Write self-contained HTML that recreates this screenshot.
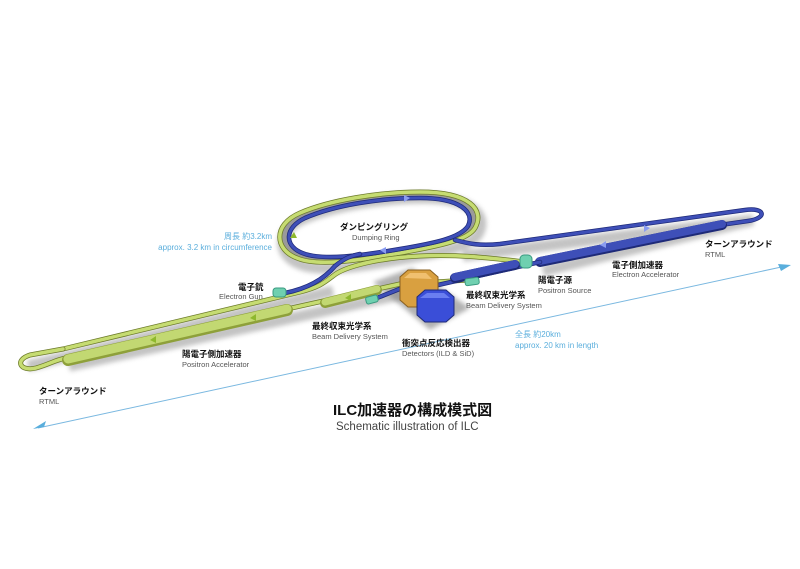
<!DOCTYPE html>
<html><head><meta charset="utf-8">
<style>
html,body{margin:0;padding:0;background:#fff;}
svg{display:block;}
text{font-family:"Liberation Sans","Noto Sans CJK JP",sans-serif;}
.jp{font-size:8.5px;font-weight:bold;fill:#111;}
.en{font-size:7.5px;fill:#555;}
.bl{font-size:8px;fill:#5aaedc;}
</style></head><body>
<svg width="800" height="569" viewBox="0 0 800 569" xmlns="http://www.w3.org/2000/svg">
<defs>
<filter id="sh" x="-10%" y="-10%" width="120%" height="140%"><feGaussianBlur stdDeviation="2.5"/></filter>
</defs>
<!-- shadows -->
<g stroke="#888" fill="none" opacity="0.5" filter="url(#sh)" stroke-width="11" transform="translate(3,6)">
<path d="M297,258 C275,250 272,225 300,213 C330,200 380,192 420,192 C470,192 485,210 475,228 C468,240 440,246 400,253 C370,258 320,268 297,258 Z"/>
<path d="M25,360 L330,285"/>
<path d="M66,360 L400,288"/>
<path d="M460,250 L750,214 L540,265"/>
</g>
<!-- grey band between green & blue ring -->
<path d="M298,255 C280,248 278,226 302,215 C332,202 380,195 420,195 C465,195 480,211 471,227 C464,239 438,244 400,251 C368,256 320,265 298,255 Z" fill="none" stroke="#9a9a9a" stroke-width="6"/>
<polygon points="373,282 412,268 470,308 430,330" fill="#888" opacity="0.65" filter="url(#sh)"/>

<g fill="none" stroke-linecap="round" stroke-linejoin="round">
<!-- green ring -->
<path d="M297,258 C275,250 272,225 300,213 C330,200 380,192 420,192 C470,192 485,210 475,228 C468,240 440,246 400,253 C370,258 320,268 297,258 Z" stroke="#6c7a2a" stroke-width="5"/>
<path d="M297,258 C275,250 272,225 300,213 C330,200 380,192 420,192 C470,192 485,210 475,228 C468,240 440,246 400,253 C370,258 320,268 297,258 Z" stroke="#c6dc72" stroke-width="3.5"/>
<!-- green long upper line + loop -->
<path d="M63,349 L300,292 C320,287 325,282 333,276 C345,266 380,258 420,256 C460,254 490,258 525,262" stroke="#6c7a2a" stroke-width="5"/>
<path d="M63,349 L300,292 C320,287 325,282 333,276 C345,266 380,258 420,256 C460,254 490,258 525,262" stroke="#c6dc72" stroke-width="3.5"/>
<path d="M63,349 L30,355 C14,360 20,372 36,368 C50,364 55,360 66,358" stroke="#6c7a2a" stroke-width="5"/>
<path d="M63,349 L30,355 C14,360 20,372 36,368 C50,364 55,360 66,358" stroke="#c6dc72" stroke-width="3.5"/>
<!-- lower line to detector -->
<path d="M66,358 L400,284 M436,282 L468,280" stroke="#6c7a2a" stroke-width="5"/>
<path d="M66,358 L400,284 M436,282 L468,280" stroke="#c6dc72" stroke-width="3.5"/>
<path d="M68,360 L287,310" stroke="#8ea03a" stroke-width="12"/>
<path d="M68,359 L287,309" stroke="#c2d872" stroke-width="9"/>
<path d="M325,303 L377,290" stroke="#8ea03a" stroke-width="10"/>
<path d="M325,302 L377,289" stroke="#c2d872" stroke-width="7"/>

<!-- blue ring -->
<path d="M300,252 C285,245 284,228 305,218 C335,205 380,198 420,198 C460,198 475,212 468,226 C460,238 435,243 400,249 C365,255 320,262 300,252 Z" stroke="#1e2a78" stroke-width="4.5"/>
<path d="M300,252 C285,245 284,228 305,218 C335,205 380,198 420,198 C460,198 475,212 468,226 C460,238 435,243 400,249 C365,255 320,262 300,252 Z" stroke="#3e4fb8" stroke-width="3"/>
<!-- blue gun line -->
<path d="M285,293 C310,288 325,278 335,266 C345,258 350,256 360,254" stroke="#1e2a78" stroke-width="4.5"/>
<path d="M285,293 C310,288 325,278 335,266 C345,258 350,256 360,254" stroke="#3e4fb8" stroke-width="3"/>
<!-- blue long line to turnaround -->
<path d="M455,240 C470,244 480,246 500,244 L745,210 C765,207 768,218 748,221 L720,225" stroke="#1e2a78" stroke-width="4.5"/>
<path d="M455,240 C470,244 480,246 500,244 L745,210 C765,207 768,218 748,221 L720,225" stroke="#3e4fb8" stroke-width="3"/>
<path d="M540,262 L722,225" stroke="#1e2a78" stroke-width="10"/>
<path d="M540,261 L722,224" stroke="#3e4fb8" stroke-width="8"/>
<path d="M438,285 L540,262" stroke="#1e2a78" stroke-width="4.5"/>
<path d="M438,285 L540,262" stroke="#3e4fb8" stroke-width="3"/>
<path d="M455,278 L515,265" stroke="#1e2a78" stroke-width="10"/>
<path d="M455,277 L515,264" stroke="#3e4fb8" stroke-width="8"/>
<path d="M402,288 L372,300" stroke="#1e2a78" stroke-width="4.5"/>
<path d="M402,288 L372,300" stroke="#3e4fb8" stroke-width="3"/>
</g>
<!-- arrow markers on lines -->
<g fill="#8eb82e">
<polygon points="150,340 156,336 156,343"/><polygon points="250,318 256,314 256,321"/><polygon points="345,298 351,294 351,301"/><polygon points="290,238 294,232 297,238"/>
</g>
<g fill="#8a9cf0">
<polygon points="600,245 606,241 606,248"/><polygon points="650,228 644,225 644,232"/><polygon points="410,198 404,195 404,202"/><polygon points="380,250 386,247 386,254"/>
</g>
<!-- cyan components -->
<rect x="273" y="288" width="13" height="9" rx="3" fill="#6fd0b0" stroke="#3a9a80"/>
<rect x="366" y="296" width="12" height="7" rx="2" fill="#6fd0b0" stroke="#3a9a80" transform="rotate(-15 372 300)"/>
<rect x="465" y="278" width="14" height="7" rx="2" fill="#6fd0b0" stroke="#3a9a80" transform="rotate(-8 472 281)"/>
<rect x="520" y="255" width="12" height="13" rx="4" fill="#6fd0b0" stroke="#3a9a80"/>
<!-- detectors -->
<polygon points="400,277 408,270 430,270 438,277 438,300 430,307 408,307 400,300" fill="#d9a040" stroke="#8a6020"/>
<polygon points="404,278 410,273 426,273 432,279" fill="#f0c070"/>
<polygon points="417,297 425,290 446,290 454,297 454,315 446,322 425,322 417,315" fill="#3a4ed8" stroke="#1e2a78"/>
<polygon points="420,298 427,293 444,293 450,298" fill="#6a7ef0"/>

<!-- axis arrow -->
<line x1="38" y1="428" x2="786" y2="266" stroke="#7ab8e0" stroke-width="1"/>
<polygon points="33,429 46,421 44,427" fill="#5aaedc"/>
<polygon points="791,265 778,264 781,271" fill="#5aaedc"/>

<!-- labels -->
<text class="bl" x="272" y="239" text-anchor="end">周長 約3.2km</text>
<text class="bl" x="272" y="250" text-anchor="end">approx. 3.2 km in circumference</text>
<text class="jp" x="340" y="230">ダンピングリング</text>
<text class="en" x="352" y="240">Dumping Ring</text>
<text class="jp" x="238" y="290">電子銃</text>
<text class="en" x="219" y="299">Electron Gun</text>
<text class="jp" x="312" y="329">最終収束光学系</text>
<text class="en" x="312" y="339">Beam Delivery System</text>
<text class="jp" x="182" y="357">陽電子側加速器</text>
<text class="en" x="182" y="367">Positron Accelerator</text>
<text class="jp" x="39" y="394">ターンアラウンド</text>
<text class="en" x="39" y="404">RTML</text>
<text class="jp" x="402" y="346">衝突点反応検出器</text>
<text class="en" x="402" y="356">Detectors (ILD &amp; SiD)</text>
<text class="jp" x="466" y="298">最終収束光学系</text>
<text class="en" x="466" y="308">Beam Delivery System</text>
<text class="jp" x="538" y="283">陽電子源</text>
<text class="en" x="538" y="293">Positron Source</text>
<text class="jp" x="612" y="268">電子側加速器</text>
<text class="en" x="612" y="277">Electron Accelerator</text>
<text class="jp" x="705" y="247">ターンアラウンド</text>
<text class="en" x="705" y="257">RTML</text>
<text class="bl" x="515" y="337">全長 約20km</text>
<text class="bl" x="515" y="348">approx. 20 km in length</text>
<text x="333" y="415" style="font-size:15px;font-weight:bold;fill:#111">ILC加速器の構成模式図</text>
<text x="336" y="430" style="font-size:11.5px;fill:#444">Schematic illustration of ILC</text>
</svg>
</body></html>
